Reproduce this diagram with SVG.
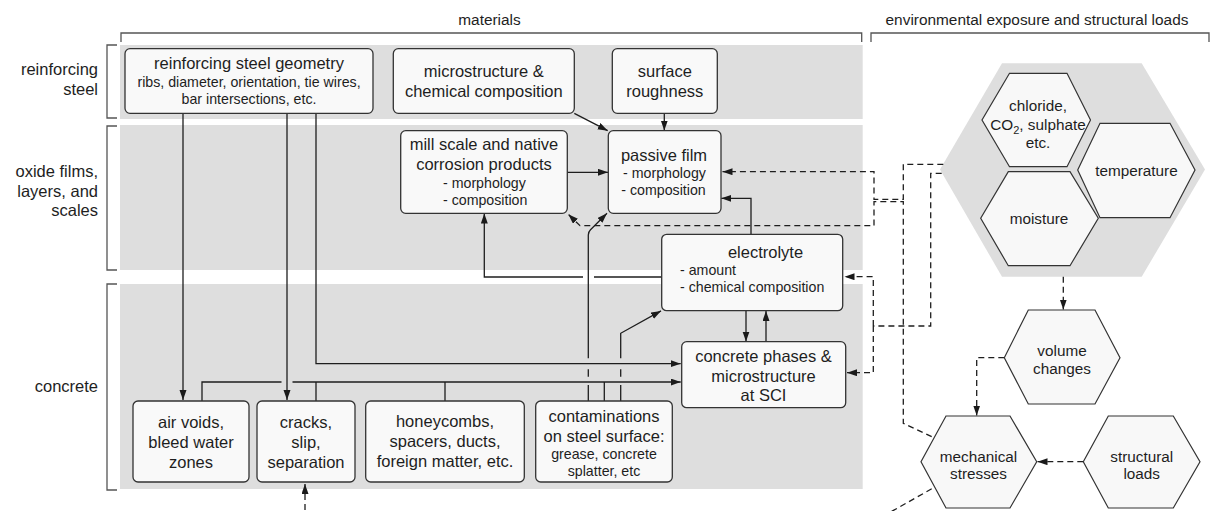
<svg xmlns="http://www.w3.org/2000/svg" width="1212" height="511" viewBox="0 0 1212 511">
<defs>
<marker id="ah" markerUnits="userSpaceOnUse" markerWidth="11" markerHeight="8" refX="10" refY="3.5" orient="auto"><path d="M0,0 L10,3.5 L0,7 z" fill="#1a1a1a"/></marker>
<style>
text{font-family:"Liberation Sans",Arial,sans-serif;fill:#1e1e1e}
.m{font-size:16.5px;text-anchor:middle}
.s{font-size:14.2px;text-anchor:middle}
.sl{font-size:14.2px}
.h{font-size:15.4px;text-anchor:middle}
.lab{font-size:16.5px;text-anchor:end}
.hx{font-size:15.3px;text-anchor:middle}
.band{fill:#dedede}
.box{fill:#f9f9f9;stroke:#333;stroke-width:1.3}
.hex{fill:#f8f8f8;stroke:#333;stroke-width:1.2}
.br{fill:none;stroke:#555;stroke-width:1.3}
.c{fill:none;stroke:#1e1e1e;stroke-width:1.3}
.d{fill:none;stroke:#1e1e1e;stroke-width:1.3;stroke-dasharray:6 4}
.a{marker-end:url(#ah)}
</style>
</defs>
<g id="background">
<rect class="band" x="120" y="45" width="742.7" height="74"/>
<rect class="band" x="120" y="125" width="742.7" height="145"/>
<rect class="band" x="120" y="284" width="742.7" height="205"/>
<polygon fill="#dedede" points="1002,63.3 1141.7,63.3 1205,169.5 1141.7,276.7 1002,276.7 940,169.5"/>
</g>
<g id="headers">
<path class="br" d="M121,42 V33 H861.7 V42"/>
<text class="h" x="489.5" y="24.5">materials</text>
<path class="br" d="M871,42 V33 H1209 V42"/>
<text class="h" x="1037" y="24.5">environmental exposure and structural loads</text>
<path class="br" d="M117,45 H107 V118 H117"/>
<text class="lab" x="98" y="75">reinforcing</text>
<text class="lab" x="98" y="94.5">steel</text>
<path class="br" d="M117,126 H107 V270 H117"/>
<text class="lab" x="98" y="177">oxide films,</text>
<text class="lab" x="98" y="196.5">layers, and</text>
<text class="lab" x="98" y="216">scales</text>
<path class="br" d="M117,284 H107 V490 H117"/>
<text class="lab" x="98" y="392">concrete</text>
</g>
<g id="connectors">
<path class="c a" d="M183,113.3 V400"/>
<path class="c a" d="M287,113.3 V400"/>
<path class="c a" d="M316,113.3 V363.7 H680.7"/>
<path class="c" d="M202,401 V382 H281.5 M292.5,382 H500"/>
<path class="c a" d="M500,382 H680.7"/>
<path class="c" d="M316,401 V382 M445,401 V382 M604.3,401 V382"/>
<path class="c a" d="M574.3,113.3 L607.7,130.7"/>
<path class="c a" d="M664.3,113.3 V130.5"/>
<path class="c a" d="M567.3,172.3 H608"/>
<path class="c a" d="M751,234.3 V198.3 H721.3"/>
<path class="c" d="M661.7,277 H594"/>
<path class="c a" d="M583,277 H484.3 V213.5"/>
<path class="c a" d="M746,310.7 V341.5"/>
<path class="c a" d="M766,341.7 V311"/>
<path class="c" d="M588.3,401 V385 M588.3,376.7 V369.3"/>
<path class="c a" d="M588.3,358.3 V235 Q588.3,232 590.5,229.8 L607,213.3"/>
<path class="c" d="M620.7,401 V385 M620.7,376.7 V369.3"/>
<path class="c a" d="M620.7,358.3 V333.3 L661,310.9"/>
<path class="d a" d="M943.3,164.3 H903.3 V199.3 H874 V171.7 H722.5"/>
<path class="d a" d="M931.7,436.7 L903.3,423.3 V201.7 H874 V225.7 H580 L568.3,214.3"/>
<path class="d" d="M941.7,173.3 H930.7 V326 H873.3"/>
<path class="d a" d="M873.3,326 V276.7 H844.5"/>
<path class="d a" d="M873.3,326 V372.7 H847"/>
<path class="d a" d="M1063.3,276.7 V309.5"/>
<path class="d a" d="M1004.3,357.7 H976.7 V415.5"/>
<path class="d a" d="M1083.3,461.7 H1037.5"/>
<path class="d" d="M931.7,488.8 L880,518"/>
<path class="d a" d="M305,520 V484"/>
</g>
<g id="n-geometry">
<rect class="box" x="125" y="48.7" width="248" height="64.6" rx="5"/>
<text class="m" x="249" y="69">reinforcing steel geometry</text>
<text class="s" x="249" y="87">ribs, diameter, orientation, tie wires,</text>
<text class="s" x="249" y="104">bar intersections, etc.</text>
</g>
<g id="n-microstructure">
<rect class="box" x="393.3" y="48.7" width="181" height="64.6" rx="5"/>
<text class="m" x="483.8" y="77">microstructure &amp;</text>
<text class="m" x="483.8" y="97">chemical composition</text>
</g>
<g id="n-surface">
<rect class="box" x="612.3" y="48.7" width="105" height="64.6" rx="5"/>
<text class="m" x="664.8" y="77">surface</text>
<text class="m" x="664.8" y="97">roughness</text>
</g>
<g id="n-millscale">
<rect class="box" x="400.7" y="130.7" width="166.6" height="82.6" rx="5"/>
<text class="m" x="484" y="150">mill scale and native</text>
<text class="m" x="484" y="170">corrosion products</text>
<text class="sl" x="443" y="187.5">- morphology</text>
<text class="sl" x="443" y="204.5">- composition</text>
</g>
<g id="n-passive">
<rect class="box" x="608.3" y="130.7" width="112.7" height="82.6" rx="5"/>
<text class="m" x="664" y="161">passive film</text>
<text class="s" x="664.5" y="177.5">- morphology</text>
<text class="s" x="663.5" y="194.5">- composition</text>
</g>
<g id="n-electrolyte">
<rect class="box" x="661.7" y="234.3" width="181" height="76.4" rx="5"/>
<text class="m" x="765.5" y="257.5">electrolyte</text>
<text class="sl" x="680" y="274.5">- amount</text>
<text class="sl" x="680" y="292">- chemical composition</text>
</g>
<g id="n-concrete">
<rect class="box" x="681.7" y="341.7" width="164" height="66" rx="5"/>
<text class="m" x="763.5" y="362">concrete phases &amp;</text>
<text class="m" x="763.5" y="381.5">microstructure</text>
<text class="m" x="763.5" y="401">at SCI</text>
</g>
<g id="n-airvoids">
<rect class="box" x="133" y="401" width="116" height="81" rx="5"/>
<text class="m" x="191" y="427.5">air voids,</text>
<text class="m" x="191" y="447.5">bleed water</text>
<text class="m" x="191" y="467.5">zones</text>
</g>
<g id="n-cracks">
<rect class="box" x="257" y="401" width="98" height="81" rx="5"/>
<text class="m" x="306" y="427.5">cracks,</text>
<text class="m" x="306" y="447.5">slip,</text>
<text class="m" x="306" y="467.5">separation</text>
</g>
<g id="n-honeycombs">
<rect class="box" x="365.7" y="401" width="158.6" height="81" rx="5"/>
<text class="m" x="445" y="426.5">honeycombs,</text>
<text class="m" x="445" y="446.5">spacers, ducts,</text>
<text class="m" x="445" y="466.5">foreign matter, etc.</text>
</g>
<g id="n-contaminations">
<rect class="box" x="535.7" y="401" width="136.6" height="81" rx="5"/>
<text class="m" x="604" y="422">contaminations</text>
<text class="m" x="604" y="442">on steel surface:</text>
<text class="s" x="604" y="459">grease, concrete</text>
<text class="s" x="604" y="475.5">splatter, etc</text>
</g>
<g id="n-chloride">
<polygon class="hex" points="1009.5,73.3 1067,73.3 1090.5,120 1067,166.7 1009.5,166.7 982,120"/>
<text class="hx" x="1038" y="111">chloride,</text>
<text class="hx" x="1038" y="129.5">CO<tspan font-size="11px" dy="4">2</tspan><tspan dy="-4">, sulphate</tspan></text>
<text class="hx" x="1038" y="148">etc.</text>
</g>
<g id="n-temperature">
<polygon class="hex" points="1100,123.3 1170,123.3 1195,170 1170,217.7 1100,217.7 1077.7,170"/>
<text class="hx" x="1136.5" y="175.5">temperature</text>
</g>
<g id="n-moisture">
<polygon class="hex" points="1008.3,171.7 1070,171.7 1098.3,218.3 1070,265.7 1008.3,265.7 980.7,218.3"/>
<text class="hx" x="1039" y="224">moisture</text>
</g>
<g id="n-volume">
<polygon class="hex" points="1028.3,310 1095,310 1120,357.7 1095,404 1028.3,404 1004.3,357.7"/>
<text class="hx" x="1062" y="355.5">volume</text>
<text class="hx" x="1062" y="373.5">changes</text>
</g>
<g id="n-mechanical">
<polygon class="hex" points="946,416 1010,416 1036.7,461.7 1010,508 946,508 921,461.7"/>
<text class="hx" x="978.5" y="461.5">mechanical</text>
<text class="hx" x="978.5" y="479">stresses</text>
</g>
<g id="n-structural">
<polygon class="hex" points="1108.3,416 1173.3,416 1200,461.7 1173.3,508 1108.3,508 1083.3,461.7"/>
<text class="hx" x="1141.7" y="461.5">structural</text>
<text class="hx" x="1141.7" y="479">loads</text>
</g>
</svg>
